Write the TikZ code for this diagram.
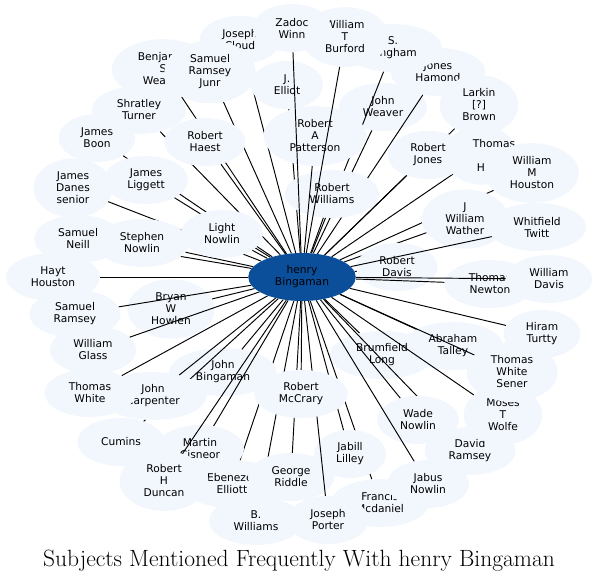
\documentclass[tikz,border=0pt]{standalone}
\usepackage{fontspec}
\usetikzlibrary{shapes.geometric}
\newfontfamily\nf{DejaVu Sans}
\pgfdeclarelayer{front}
\pgfsetlayers{main,front}
\definecolor{nodefill}{HTML}{F2F7FE}
\definecolor{hubfill}{HTML}{0B4F9A}
\tikzset{
  nb/.style={ellipse, fill=nodefill, inner xsep=11pt, inner ysep=5pt,
    minimum width=72pt, minimum height=48pt, align=center,
    font=\nf\fontsize{10.67}{12}\selectfont},
  hub/.style={nb, fill=hubfill},
  edge/.style={draw=black, line width=0.95pt},
  title/.style={font=\fontsize{23.5}{26}\selectfont}
}
\newcommand\spoke[3]{\node[nb] (#1) at (#2) {#3}; \draw[edge] (hb) -- (#1);}
\begin{document}
\begin{tikzpicture}[x=1pt,y=-1pt]
\useasboundingbox (0,0) rectangle (599,584);
\begin{pgfonlayer}{front}
\node[hub] (hb) at (302,277) {henry\\Bingaman};
\end{pgfonlayer}
\spoke{jc}{240,40}{Joseph\\Cloud}
\spoke{bsw}{163,69}{Benjamin\\S\\Weaver}
\spoke{jw}{383,107}{John\\Weaver}
\spoke{jh}{438,72}{Jones\\Hamond}
\spoke{sb}{393,48}{S.\\Bingham}
\spoke{je}{287,85}{J.\\Elliot}
\spoke{rw}{332,194}{Robert\\Williams}
\spoke{rap}{315,136}{Robert\\A\\Patterson}
\spoke{wtb}{345,37}{William\\T\\Burford}
\spoke{zw}{292,28}{Zadoc\\Winn}
\spoke{srj}{210,72}{Samuel\\Ramsey\\Junr}
\spoke{jb}{97,138}{James\\Boon}
\spoke{st}{139,110}{Shratley\\Turner}
\spoke{rh}{205,142}{Robert\\Haest}
\spoke{jds}{73,188}{James\\Danes\\senior}
\spoke{jl}{146,180}{James\\Liggett}
\spoke{sn}{78,239}{Samuel\\Neill}
\spoke{stn}{142,243}{Stephen\\Nowlin}
\spoke{ln}{222,234}{Light\\Nowlin}
\spoke{hh}{53,277}{Hayt\\Houston}
\spoke{th}{481,155}{\makebox[0pt]{\hspace*{26pt}Thomas}\\ \\H}
\spoke{lb}{479,105}{Larkin\\{[?]}\\Brown}
\spoke{rj}{428,155}{Robert\\Jones}
\spoke{wmh}{532,173}{William\\M\\Houston}
\spoke{jww}{465,219}{J\\William\\Wather}
\spoke{rd}{397,267}{Robert\\Davis}
\spoke{wt}{537,227}{Whitfield\\Twitt}
\spoke{tn}{490,284}{Thomas\\Newton}
\spoke{wd}{549,279}{William\\Davis}
\spoke{ht}{542,334}{Hiram\\Turtty}
\spoke{at}{453,346}{Abraham\\Talley}
\spoke{bl}{382,355}{Brumfield\\Long}
\spoke{dr}{470,451}{David\\Ramsey}
\spoke{mtw}{503,415}{Moses\\T\\Wolfe}
\spoke{tws}{512,372}{Thomas\\White\\Sener}
\spoke{wn}{418,420}{Wade\\Nowlin}
\spoke{fm}{380,503}{Francis\\Mcdaniel}
\spoke{jn}{428,484}{Jabus\\Nowlin}
\spoke{jbl}{350,454}{Jabill\\Lilley}
\spoke{bw}{256,521}{B.\\Williams}
\spoke{ee}{232,484}{Ebenezer\\Elliott}
\spoke{gr}{291,477}{George\\Riddle}
\spoke{jp}{328,520}{Joseph\\Porter}
\spoke{rmc}{301,394}{Robert\\McCrary}
\spoke{jbg}{223,372}{John\\Bingaman}
\spoke{mc}{200,449}{Martin\\Cisneor}
\spoke{rhd}{164,481}{Robert\\H\\Duncan}
\spoke{cu}{121,442}{Cumins}
\spoke{jcp}{153,396}{John\\Carpenter}
\spoke{tw}{90,393}{Thomas\\White}
\spoke{bwh}{171,309}{Bryan\\W\\Howlen}
\spoke{sr}{75,314}{Samuel\\Ramsey}
\spoke{wg}{93,350}{William\\Glass}
\node[title] (ttl) at (299,561) {Subjects Mentioned Frequently With henry Bingaman};
\end{tikzpicture}
\end{document}
